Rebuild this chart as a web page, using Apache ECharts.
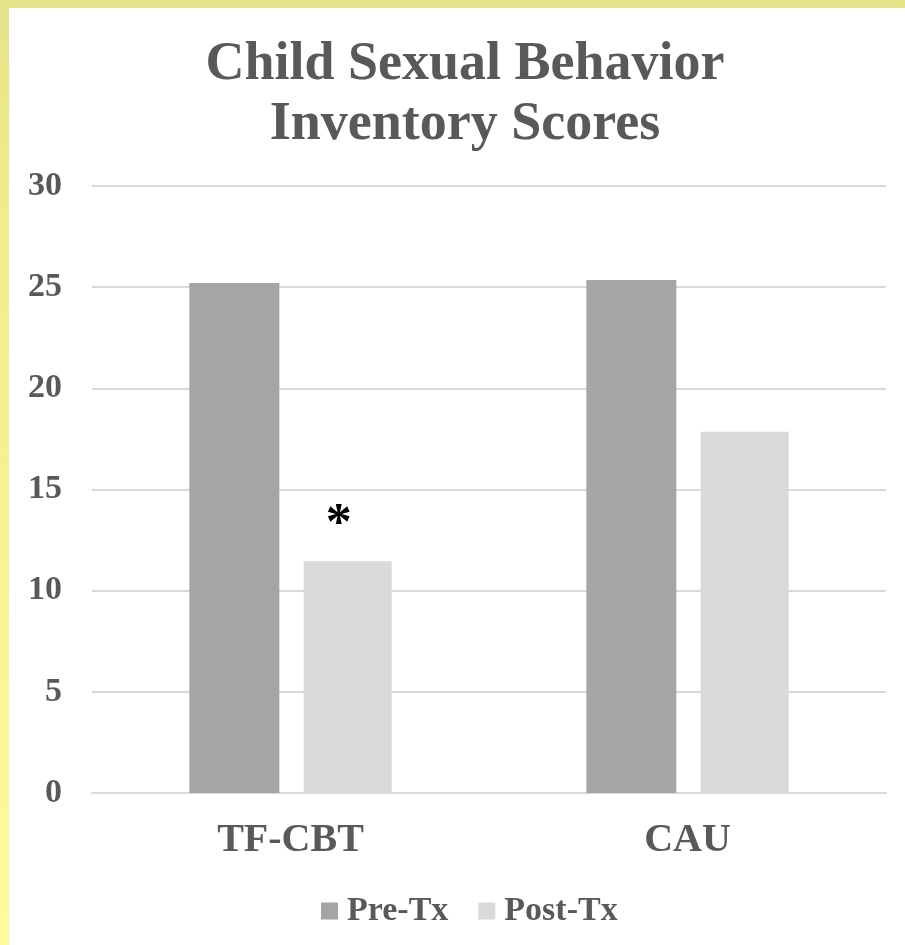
<!DOCTYPE html>
<html>
<head>
<meta charset="utf-8">
<script src="https://cdn.jsdelivr.net/npm/echarts@6/dist/echarts.min.js"></script>
<style>
  html, body { margin: 0; padding: 0; }
  body { width: 905px; height: 945px; background: linear-gradient(to bottom, #e5e389 0%, #f0ec8c 20%, #fffa9c 100%); position: relative; overflow: hidden; }
  #main { position: absolute; left: 9px; top: 8px; width: 896px; height: 937px; background: #ffffff; }
</style>
</head>
<body>
<div id="main"></div>
<script>
const categories = ['TF-CBT', 'CAU'];
const preTx = [25.2, 25.35];
const postTx = [11.45, 17.85];
const sigMarks = ['*', ''];
const yTicks = { min: 0, max: 30, interval: 5 };
const titleLines = ['Child Sexual Behavior', 'Inventory Scores'];

const serif = '"Liberation Serif", "Times New Roman", serif';
const textColor = '#595959';

const chart = echarts.init(document.getElementById('main'), null, { renderer: 'canvas' });
chart.setOption({
  animation: false,
  backgroundColor: '#ffffff',
  title: {
    text: titleLines.join('\n'),
    left: 451,
    top: 22,
    textAlign: 'center',
    textStyle: { fontFamily: serif, fontWeight: 'bold', fontSize: 54, lineHeight: 60, color: textColor }
  },
  legend: {
    data: ['Pre-Tx', 'Post-Tx'],
    left: 307,
    top: 881,
    itemWidth: 17,
    itemHeight: 17,
    itemGap: 30,
    icon: 'rect',
    textStyle: { fontFamily: serif, fontWeight: 'bold', fontSize: 34, color: textColor, padding: [0, 0, 0, 4] }
  },
  grid: { left: 83, right: 19, top: 178, bottom: 152, containLabel: false },
  xAxis: {
    type: 'category',
    data: categories,
    axisLine: { show: true, lineStyle: { color: '#d9d9d9', width: 2 } },
    axisTick: { show: false },
    axisLabel: { margin: 28, fontFamily: serif, fontWeight: 'bold', fontSize: 40, color: textColor }
  },
  yAxis: {
    type: 'value',
    min: yTicks.min, max: yTicks.max, interval: yTicks.interval,
    axisLine: { show: false },
    axisTick: { show: false },
    splitLine: { lineStyle: { color: '#d9d9d9', width: 2 } },
    axisLabel: { margin: 30, fontFamily: serif, fontWeight: 'bold', fontSize: 34, color: textColor }
  },
  series: [
    {
      name: 'Pre-Tx', type: 'bar', data: preTx,
      barWidth: 90, barGap: '27%',
      itemStyle: { color: '#a5a5a5' }
    },
    {
      name: 'Post-Tx', type: 'bar',
      data: postTx.map((v, i) => ({
        value: v,
        label: {
          show: sigMarks[i] !== '',
          formatter: sigMarks[i],
          position: 'top',
          distance: 10,
          offset: [-9, 0],
          fontFamily: serif, fontWeight: 'bold', fontSize: 52, color: '#000000'
        }
      })),
      barWidth: 88,
      itemStyle: { color: '#d9d9d9' }
    }
  ]
});
</script>
</body>
</html>
